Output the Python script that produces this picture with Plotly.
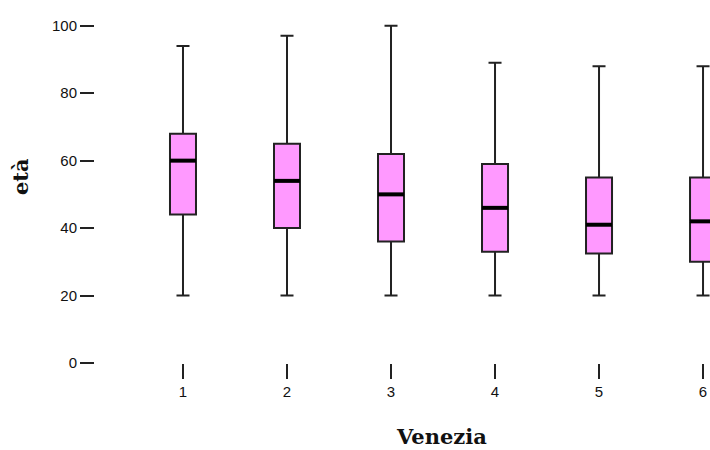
import plotly.graph_objects as go

categories = [1, 2, 3, 4, 5, 6]
lower_whisker = [20, 20, 20, 20, 20, 20]
q1 = [44, 40, 36, 33, 32.5, 30]
median = [60, 54, 50, 46, 41, 42]
q3 = [68, 65, 62, 59, 55, 55]
upper_whisker = [94, 97, 100, 89, 88, 88]
y_ticks = [0, 20, 40, 60, 80, 100]

BOX_W = 0.25

fig = go.Figure()
fig.add_trace(go.Box(
    x=categories,
    q1=q1, median=median, q3=q3,
    lowerfence=lower_whisker, upperfence=upper_whisker,
    width=BOX_W, whiskerwidth=0.5,
    fillcolor="#FF99FF",
    line=dict(color="#222222", width=2),
    boxpoints=False,
    showlegend=False,
))

for c, m in zip(categories, median):
    fig.add_shape(type="line", xref="x", yref="y",
                  x0=c - BOX_W / 2, x1=c + BOX_W / 2, y0=m, y1=m,
                  line=dict(color="black", width=4), layer="above")

title_font = dict(family="DejaVu Serif", size=21, color="#111111")
fig.update_layout(
    width=710, height=450,
    margin=dict(l=95, r=0, t=19, b=87, autoexpand=False),
    plot_bgcolor="white", paper_bgcolor="white",
    showlegend=False,
    annotations=[
        dict(text="<b>Venezia</b>", xref="paper", yref="paper",
             x=0.564, y=-0.215, xanchor="center", yanchor="middle",
             showarrow=False, font=title_font),
        dict(text="<b>età</b>", xref="paper", yref="paper",
             x=-0.120, y=0.541, xanchor="center", yanchor="middle",
             textangle=-90, showarrow=False, font=title_font),
    ],
)
fig.update_xaxes(
    range=[0.154, 6.067], automargin=False,
    tickvals=categories, ticktext=[str(c) for c in categories],
    ticks="outside", ticklen=15, tickwidth=2, tickcolor="#222222",
    showgrid=False, zeroline=False, showline=False,
    tickfont=dict(family="Liberation Sans", size=15, color="#111111"),
)
fig.update_yaxes(
    range=[0, 102], automargin=False,
    tickvals=y_ticks,
    ticks="outside", ticklen=14, tickwidth=2, tickcolor="#222222",
    showgrid=False, zeroline=False, showline=False,
    tickfont=dict(family="Liberation Sans", size=15, color="#111111"),
)

fig.write_html(
    "out.html",
    config={"displayModeBar": False},
    post_script="document.body.style.margin='0';document.body.style.padding='0';",
)
